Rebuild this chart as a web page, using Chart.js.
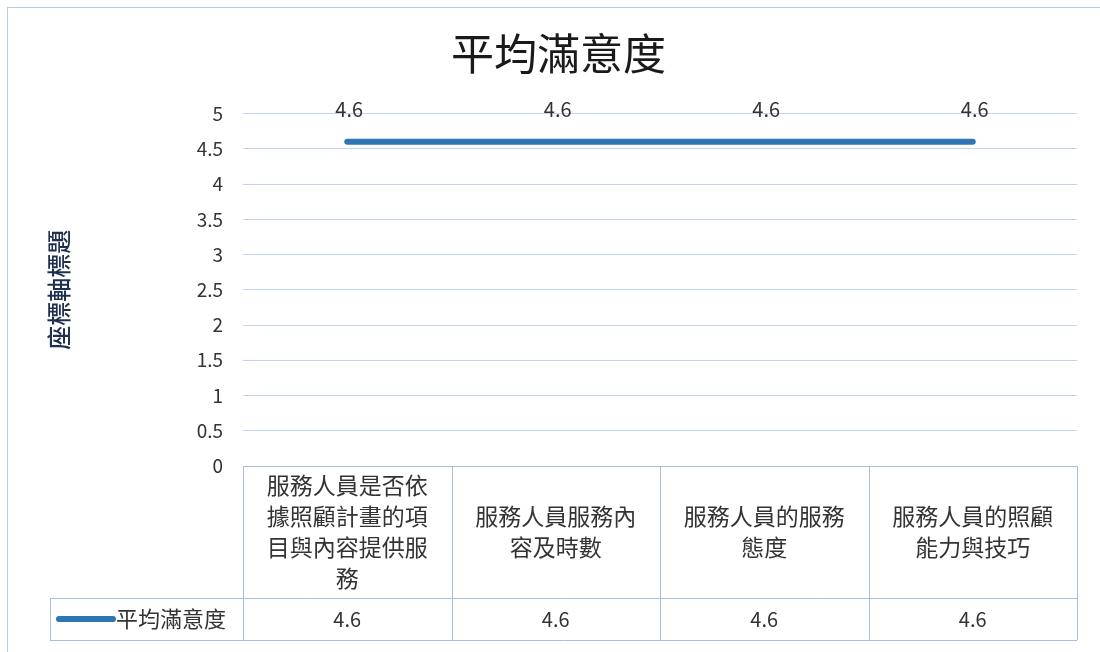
<!DOCTYPE html>
<html>
<head>
<meta charset="utf-8">
<script src="https://cdn.jsdelivr.net/npm/chart.js@4.4.1/dist/chart.umd.min.js"></script>
<style>
  html, body { margin: 0; padding: 0; background: #fff; }
  #wrap { position: relative; width: 1100px; height: 652px; }
  #frame { position: absolute; left: 7px; top: 7px; right: -2px; bottom: -2px;
           border-top: 1px solid #b8c9e6; border-left: 1px solid #b8c9e6; pointer-events: none; }
</style>
</head>
<body>
<div id="wrap">
  <canvas id="myChart" width="1100" height="652"></canvas>
  <div id="frame"></div>
</div>
<script>
// 類別 (x軸)
const categories = [
    '服務人員是否依據照顧計畫的項目與內容提供服務',
    '服務人員服務內容及時數',
    '服務人員的服務態度',
    '服務人員的照顧能力與技巧'
];
// 系列
const seriesName = '平均滿意度';
const seriesValues = [4.6, 4.6, 4.6, 4.6];
// y軸
const yTicks = [0, 0.5, 1, 1.5, 2, 2.5, 3, 3.5, 4, 4.5, 5];

const FONT = "'Noto Sans CJK TC', 'Noto Sans', sans-serif";
const LINE_COLOR = '#2e75b6';
const GRID_COLOR = '#c5d3ec';
const TABLE_COLOR = '#a9bde2';
const TEXT_COLOR = '#333333';

// 7文字ごとに折り返し
function wrapLabel(s, n) {
    const out = [];
    for (let i = 0; i < s.length; i += n) out.push(s.slice(i, i + n));
    return out;
}

// データラベル
const dataLabelPlugin = {
    id: 'dataLabels',
    afterDatasetsDraw(chart) {
        const ctx = chart.ctx;
        const meta = chart.getDatasetMeta(0);
        ctx.save();
        ctx.font = '20px ' + FONT;
        ctx.fillStyle = TEXT_COLOR;
        ctx.textAlign = 'center';
        ctx.textBaseline = 'middle';
        meta.data.forEach((pt, i) => {
            ctx.fillText(String(chart.data.datasets[0].data[i]), pt.x + 2, pt.y - 32);
        });
        ctx.restore();
    }
};

// データテーブル
const dataTablePlugin = {
    id: 'dataTable',
    afterDraw(chart) {
        const ctx = chart.ctx;
        const xs = chart.scales.x;
        const area = chart.chartArea;
        const n = chart.data.labels.length;
        const step = (area.right - area.left) / n;
        const top = area.bottom;
        const rowY = top + 132;
        const bottom = rowY + 42;
        const legendLeft = 50;

        ctx.save();
        ctx.strokeStyle = TABLE_COLOR;
        ctx.lineWidth = 1;
        ctx.beginPath();
        for (let i = 0; i <= n; i++) {
            const x = Math.round(area.left + step * i) + 0.5;
            ctx.moveTo(x, top);
            ctx.lineTo(x, bottom);
        }
        ctx.moveTo(area.left, top + 0.5);
        ctx.lineTo(area.right, top + 0.5);
        ctx.moveTo(legendLeft, rowY + 0.5);
        ctx.lineTo(area.right, rowY + 0.5);
        ctx.moveTo(legendLeft, bottom + 0.5);
        ctx.lineTo(area.right, bottom + 0.5);
        ctx.moveTo(legendLeft + 0.5, rowY);
        ctx.lineTo(legendLeft + 0.5, bottom);
        ctx.stroke();

        // 類別ラベル
        ctx.fillStyle = TEXT_COLOR;
        ctx.textAlign = 'center';
        ctx.textBaseline = 'middle';
        ctx.font = '23px ' + FONT;
        const lh = 31;
        chart.data.labels.forEach((label, i) => {
            const cx = xs.getPixelForValue(i);
            const lines = wrapLabel(label, 7);
            const y0 = (top + rowY) / 2 - (lines.length - 1) * lh / 2;
            lines.forEach((ln, k) => ctx.fillText(ln, cx, y0 + k * lh));
        });

        // 値
        ctx.font = '20px ' + FONT;
        const vy = (rowY + bottom) / 2;
        chart.data.datasets[0].data.forEach((v, i) => {
            ctx.fillText(String(v), xs.getPixelForValue(i), vy);
        });

        // 凡例
        ctx.strokeStyle = LINE_COLOR;
        ctx.lineWidth = 6;
        ctx.lineCap = 'round';
        ctx.beginPath();
        ctx.moveTo(legendLeft + 9, vy);
        ctx.lineTo(legendLeft + 63, vy);
        ctx.stroke();
        ctx.textAlign = 'left';
        ctx.font = '22px ' + FONT;
        ctx.fillText(chart.data.datasets[0].label, legendLeft + 66, vy);
        ctx.restore();
    }
};

const data = {
    labels: categories,
    datasets: [
        {
            label: seriesName,
            data: seriesValues,
            borderColor: LINE_COLOR,
            backgroundColor: LINE_COLOR,
            borderWidth: 6,
            borderCapStyle: 'round',
            pointRadius: 0,
            tension: 0,
            fill: false
        }
    ]
};

const config = {
    type: 'line',
    data: data,
    plugins: [dataLabelPlugin, dataTablePlugin],
    options: {
        responsive: false,
        animation: false,
        layout: {
            padding: { left: 40, right: 23, top: 20, bottom: 186 }
        },
        scales: {
            x: {
                display: false,
                offset: true
            },
            y: {
                min: 0,
                max: 5,
                afterFit(scale) { scale.width = 203; },
                afterBuildTicks(scale) { scale.ticks = yTicks.map(v => ({ value: v })); },
                border: { display: false },
                grid: { color: GRID_COLOR, drawTicks: false, lineWidth: 1 },
                ticks: {
                    padding: 20,
                    color: TEXT_COLOR,
                    font: { family: FONT, size: 19 },
                    callback: (value) => String(value)
                },
                title: {
                    display: true,
                    text: '座標軸標題',
                    color: '#1f2f4f',
                    font: { family: FONT, size: 24, weight: '500', lineHeight: 1.2 },
                    padding: { top: 4, bottom: 0 }
                }
            }
        },
        plugins: {
            legend: { display: false },
            tooltip: { enabled: false },
            title: {
                display: true,
                text: seriesName,
                color: '#1a1a1a',
                font: { family: FONT, size: 43, weight: 'normal', lineHeight: 1.2 },
                padding: { top: 8, bottom: 34 }
            }
        }
    }
};

new Chart(document.getElementById('myChart'), config);
</script>
</body>
</html>
